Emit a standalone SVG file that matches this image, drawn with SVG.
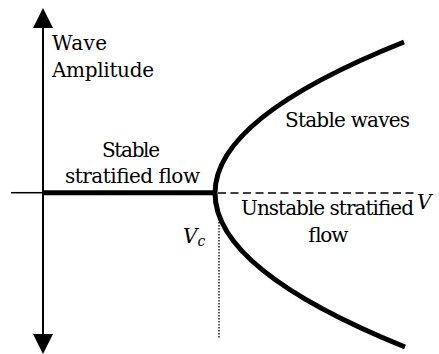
<svg xmlns="http://www.w3.org/2000/svg" width="439" height="354" viewBox="0 0 439 354">
<style>
text{font-family:"DejaVu Serif","Liberation Serif",serif;font-size:20px;fill:#000}
.it{font-style:italic}
.ax{stroke:#000;stroke-width:2;fill:none}
.thick{stroke:#000;stroke-width:5;fill:none}
</style>
<defs>
<marker id="ah" viewBox="0 0 20 20" refX="0" refY="10" markerWidth="20" markerHeight="20" markerUnits="userSpaceOnUse" orient="auto">
<path d="M0,0 L20,10 L0,20 Z" fill="#000"/>
</marker>
</defs>
<rect width="439" height="354" fill="#fff"/>
<g id="connectors">
<line class="ax" x1="43" y1="192" x2="43" y2="28" marker-end="url(#ah)"/>
<line class="ax" x1="43" y1="192" x2="43" y2="334" marker-end="url(#ah)"/>
<line x1="11" y1="192.7" x2="43" y2="192.7" stroke="#000" stroke-width="1.5"/>
<line class="thick" x1="43" y1="192.7" x2="216" y2="192.7"/>
<line x1="218" y1="193" x2="417" y2="193" stroke="#000" stroke-width="1.3" stroke-dasharray="8 4.5"/>
<line x1="219" y1="222" x2="219" y2="338" stroke="#000" stroke-width="1.3" stroke-dasharray="1.5 1.5"/>
<path class="thick" d="M404,42 Q215,117.5 215,193 Q215,270 405,347"/>
</g>
<g id="axis-label">
<text x="52" y="50" textLength="55">Wave</text>
<text x="52" y="77" textLength="102">Amplitude</text>
</g>
<g id="stable-flow">
<text x="102" y="157" textLength="58">Stable</text>
<text x="65" y="183" textLength="135">stratified flow</text>
</g>
<g id="stable-waves">
<text x="285" y="127" textLength="125">Stable waves</text>
</g>
<g id="unstable-flow">
<text x="241" y="215" textLength="173">Unstable stratified</text>
<text x="307" y="242" textLength="40">flow</text>
</g>
<g id="v-label">
<text class="it" x="417" y="209">V</text>
</g>
<g id="vc-label">
<text class="it" x="183" y="243">V<tspan font-size="14" dy="3">c</tspan></text>
</g>
</svg>
